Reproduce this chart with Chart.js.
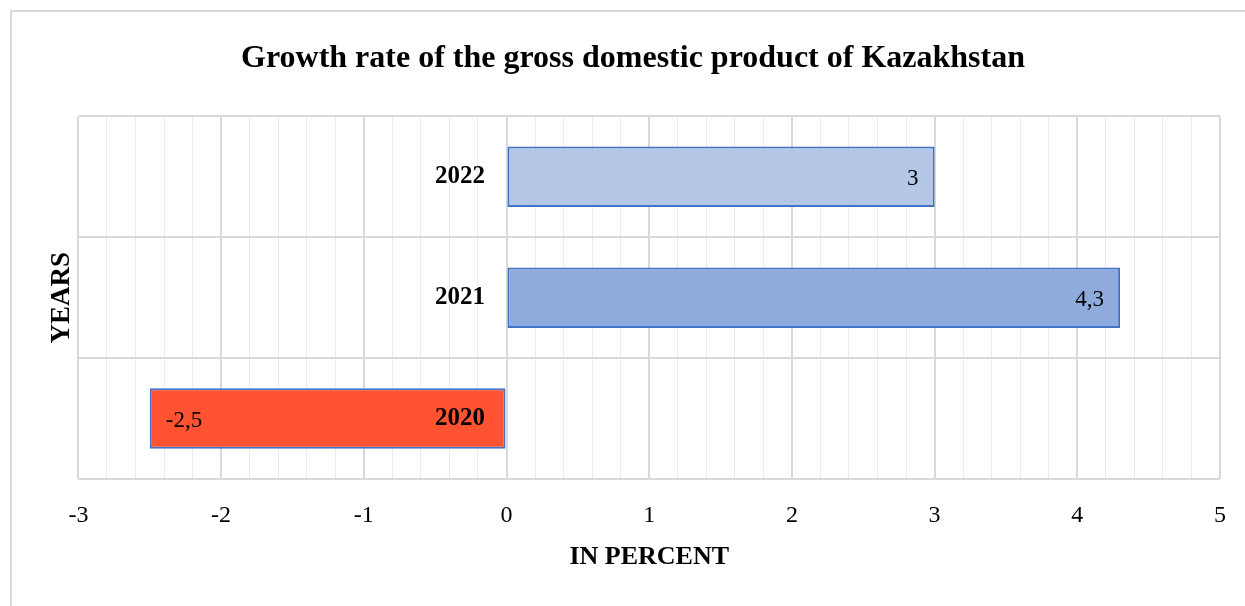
<!DOCTYPE html>
<html lang="en">
<head>
    <meta charset="UTF-8">
    <title>Growth rate of the gross domestic product of Kazakhstan</title>
    <script src="https://cdnjs.cloudflare.com/ajax/libs/Chart.js/4.4.1/chart.umd.min.js"></script>
    <style>
        html, body {
            margin: 0;
            padding: 0;
            background: #ffffff;
            overflow: hidden;
        }
        .frame {
            position: absolute;
            left: 10px;
            top: 10px;
            width: 1300px;
            height: 700px;
            border-left: 2px solid #d9d9d9;
            border-top: 2px solid #d9d9d9;
        }
        .chart-box {
            position: absolute;
            left: 0;
            top: 0;
            width: 1245px;
            height: 606px;
        }
    </style>
</head>
<body>
    <div class="frame"></div>
    <div class="chart-box">
        <canvas id="gdpChart"></canvas>
    </div>

    <script>
        // Data
        const years = ['2020', '2021', '2022'];
        const growth = [-2.5, 4.3, 3];
        const xTicksMin = -3;
        const xTicksMax = 5;

        const serif = '"Liberation Serif", "Times New Roman", serif';

        // value labels at the inner end of each bar, Excel style (comma decimals)
        const barValueLabels = {
            id: 'barValueLabels',
            afterDatasetsDraw(chart) {
                const ctx = chart.ctx;
                const meta = chart.getDatasetMeta(0);
                ctx.save();
                ctx.font = '23px ' + serif;
                ctx.fillStyle = '#000000';
                ctx.textBaseline = 'middle';
                meta.data.forEach((bar, i) => {
                    const v = growth[i];
                    const text = String(v).replace('.', ',');
                    if (v < 0) {
                        ctx.textAlign = 'left';
                        ctx.fillText(text, bar.x + 16, bar.y + 2);
                    } else {
                        ctx.textAlign = 'right';
                        ctx.fillText(text, bar.x - 16, bar.y + 2);
                    }
                });
                ctx.restore();
            }
        };

        new Chart(document.getElementById('gdpChart'), {
            type: 'bar',
            data: {
                labels: years,
                datasets: [{
                    label: 'GDP growth, %',
                    data: growth,
                    xAxisID: 'x',
                    yAxisID: 'y',
                    backgroundColor: ['#ff5331', '#8faadc', '#b4c7e7'],
                    borderColor: '#4472c4',
                    borderWidth: 2,
                    borderSkipped: false,
                    barPercentage: 0.5,
                    categoryPercentage: 1.0
                }]
            },
            options: {
                indexAxis: 'y',
                responsive: true,
                maintainAspectRatio: false,
                animation: false,
                layout: {
                    padding: { left: 46, right: 25, top: 0, bottom: 33 }
                },
                plugins: {
                    legend: { display: false },
                    tooltip: { enabled: false },
                    title: {
                        display: true,
                        text: 'Growth rate of the gross domestic product of Kazakhstan',
                        color: '#000000',
                        font: { family: serif, size: 32, weight: 'bold' },
                        padding: { top: 40, bottom: 38 }
                    }
                },
                scales: {
                    x: {
                        type: 'linear',
                        min: xTicksMin,
                        max: xTicksMax,
                        border: { display: false },
                        grid: {
                            drawTicks: true,
                            tickLength: 22,
                            tickColor: 'rgba(0,0,0,0)',
                            color: ctx => (ctx.tick && Number.isInteger(ctx.tick.value)) ? '#d9d9d9' : '#ececec',
                            lineWidth: ctx => (ctx.tick && Number.isInteger(ctx.tick.value)) ? 2 : 1
                        },
                        ticks: {
                            stepSize: 0.2,
                            maxTicksLimit: 100,
                            autoSkip: false,
                            maxRotation: 0,
                            padding: 0,
                            color: '#000000',
                            font: { family: serif, size: 24 },
                            callback: v => Number.isInteger(v) ? String(v) : ''
                        },
                        title: {
                            display: true,
                            text: 'IN PERCENT',
                            color: '#000000',
                            font: { family: serif, size: 26, weight: 'bold' },
                            padding: { top: 12, bottom: 0 }
                        }
                    },
                    y: {
                        type: 'category',
                        reverse: true,
                        // category labels sit just left of the zero line, as in Excel
                        position: { x: -0.15 },
                        border: { display: false },
                        grid: {
                            drawTicks: false,
                            color: '#d9d9d9',
                            lineWidth: 2
                        },
                        ticks: {
                            z: 1,
                            padding: 0,
                            color: '#000000',
                            font: { family: serif, size: 25, weight: 'bold' }
                        }
                    },
                    yTitle: {
                        type: 'category',
                        axis: 'y',
                        position: 'left',
                        border: { display: false },
                        grid: { display: false, drawTicks: false },
                        ticks: { display: false },
                        title: {
                            display: true,
                            text: 'YEARS',
                            color: '#000000',
                            font: { family: serif, size: 27, weight: 'bold' },
                            padding: { top: 0, bottom: 0 }
                        }
                    }
                }
            },
            plugins: [barValueLabels]
        });
    </script>
</body>
</html>
